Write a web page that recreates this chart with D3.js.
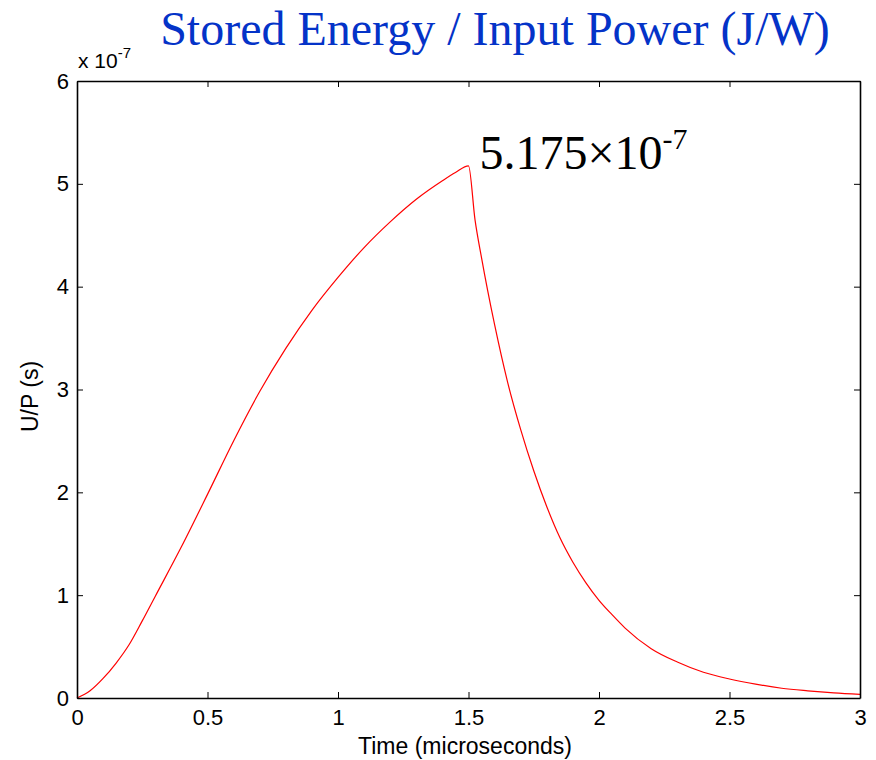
<!DOCTYPE html>
<html><head><meta charset="utf-8">
<script src="https://cdn.jsdelivr.net/npm/d3@7"></script>
<style>body{margin:0;background:#fff}</style>
</head><body>
<svg id="c" width="876" height="760"></svg>
<script>
const timeUs = [0, 0.05, 0.1, 0.15, 0.2, 0.25, 0.3, 0.4, 0.5, 0.6, 0.7, 0.8, 0.9, 1.0, 1.1, 1.2, 1.3, 1.4, 1.45, 1.5, 1.525, 1.55, 1.6, 1.65, 1.7, 1.75, 1.8, 1.85, 1.9, 1.95, 2.0, 2.05, 2.1, 2.2, 2.3, 2.4, 2.5, 2.6, 2.7, 2.8, 2.9, 3.0];
const upE7 = [0, 0.07, 0.19, 0.34, 0.52, 0.75, 0.99, 1.47, 1.98, 2.50, 2.98, 3.40, 3.77, 4.09, 4.38, 4.63, 4.85, 5.03, 5.11, 5.175, 4.65, 4.28, 3.63, 3.07, 2.61, 2.21, 1.86, 1.56, 1.32, 1.12, 0.95, 0.81, 0.68, 0.48, 0.35, 0.25, 0.185, 0.135, 0.095, 0.07, 0.05, 0.035];
const xTicks = [0, 0.5, 1, 1.5, 2, 2.5, 3];
const xTickLabels = ["0", "0.5", "1", "1.5", "2", "2.5", "3"];
const yTicks = [0, 1, 2, 3, 4, 5, 6];
const title = "Stored Energy / Input Power (J/W)";
const peakValue = 5.175;

const svg = d3.select("#c");
const L = 77, R = 860, T = 81, B = 698;
const x = d3.scaleLinear().domain([0, 3]).range([L, R]);
const y = d3.scaleLinear().domain([0, 6]).range([B, T]);
const sans = "Liberation Sans, Arial, sans-serif";
const serif = "Liberation Serif, Times New Roman, serif";

// title
svg.append("text").attr("x", 495).attr("y", 45).attr("text-anchor", "middle")
  .attr("font-family", serif).attr("font-size", 48).attr("fill", "#0433c8").text(title);

// line
const data = timeUs.map((t, i) => [t, upE7[i]]);
svg.append("path").datum(data)
  .attr("fill", "none").attr("stroke", "#ff0000").attr("stroke-width", 1.2)
  .attr("d", d3.line().x(d => x(d[0])).y(d => y(d[1])).curve(d3.curveMonotoneX));

// axes with inward ticks
const tl = 6;
const gB = svg.append("g").attr("transform", `translate(0,${B})`)
  .call(d3.axisBottom(x).tickValues(xTicks).tickFormat((d, i) => xTickLabels[i]).tickSizeInner(-tl).tickSizeOuter(0).tickPadding(11));
const gT = svg.append("g").attr("transform", `translate(0,${T})`)
  .call(d3.axisTop(x).tickValues(xTicks).tickFormat("").tickSizeInner(-tl).tickSizeOuter(0));
const gL = svg.append("g").attr("transform", `translate(${L},0)`)
  .call(d3.axisLeft(y).tickValues(yTicks).tickFormat(d3.format("d")).tickSizeInner(-tl).tickSizeOuter(0).tickPadding(8));
const gR = svg.append("g").attr("transform", `translate(${R},0)`)
  .call(d3.axisRight(y).tickValues(yTicks).tickFormat("").tickSizeInner(-tl).tickSizeOuter(0));
[gB, gT, gL, gR].forEach(g => {
  g.select(".domain").attr("stroke", "#000").attr("stroke-width", 1.6);
  g.selectAll(".tick line").attr("stroke", "#000").attr("stroke-width", 1);
  g.selectAll("text").attr("font-family", sans).attr("font-size", 22).attr("fill", "#000");
});

// exponent label
const ex = svg.append("text").attr("x", 78).attr("y", 68).attr("font-family", sans).attr("font-size", 21).attr("fill", "#000");
ex.append("tspan").text("x 10");
ex.append("tspan").attr("dy", -10).attr("font-size", 15).text("-7");

// axis labels
svg.append("text").attr("x", 465).attr("y", 754).attr("text-anchor", "middle")
  .attr("font-family", sans).attr("font-size", 23).attr("fill", "#000").text("Time (microseconds)");
svg.append("text").attr("transform", `translate(38,${(T + B) / 2 + 7}) rotate(-90)`).attr("text-anchor", "middle")
  .attr("font-family", sans).attr("font-size", 23).attr("fill", "#000").text("U/P (s)");

// peak annotation
const pk = svg.append("text").attr("x", x(1.5) + 11).attr("y", y(peakValue) + 3)
  .attr("font-family", serif).attr("font-size", 48).attr("fill", "#000");
pk.append("tspan").text("5.175×10");
pk.append("tspan").attr("dy", -20).attr("font-size", 30).text("-7");
</script>
</body></html>
